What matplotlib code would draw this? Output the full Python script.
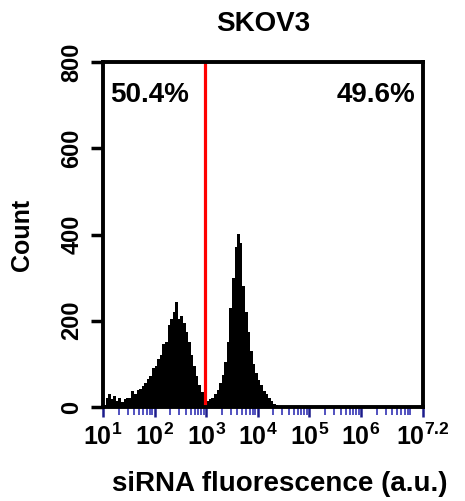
import numpy as np
import matplotlib
matplotlib.use("Agg")
import matplotlib.pyplot as plt

# Flow cytometry histogram (SKOV3), counts per log10 bin of width 0.05
bin_start = 1.0
bin_width = 0.05
counts = [5, 20, 30, 18, 25, 15, 22, 12, 18, 20,
          22, 38, 30, 40, 42, 48, 55, 65, 72, 90,
          95, 112, 120, 145, 150, 190, 205, 220, 244, 205,
          212, 195, 175, 150, 120, 95, 72, 50, 35, 18,
          15, 18, 22, 30, 40, 55, 75, 105, 150, 230,
          300, 370, 402, 380, 280, 220, 175, 130, 100, 80,
          62, 50, 38, 30, 22, 14, 8, 4]

gate_log = 2.98
pct_labels = ["50.4%", "49.6%"]
xtick_exp = [1, 2, 3, 4, 5, 6, 7.2]
xtick_labels = [r"$\mathbf{10^{1}}$", r"$\mathbf{10^{2}}$", r"$\mathbf{10^{3}}$",
                r"$\mathbf{10^{4}}$", r"$\mathbf{10^{5}}$", r"$\mathbf{10^{6}}$",
                r"$\mathbf{10^{7.2}}$"]
yticks = [0, 200, 400, 600, 800]

plt.rcParams['font.family'] = ['Liberation Sans', 'DejaVu Sans']
plt.rcParams['font.weight'] = 'bold'
plt.rcParams['mathtext.fontset'] = 'custom'
plt.rcParams['mathtext.rm'] = 'Liberation Sans:bold'
plt.rcParams['mathtext.bf'] = 'Liberation Sans:bold'

fig = plt.figure(figsize=(4.65, 5.01), dpi=100)
ax = fig.add_axes([103/465, 1 - 407/501, 320/465, 345/501])

edges = 10 ** (bin_start + bin_width * np.arange(len(counts) + 1))
ax.stairs(counts, edges, fill=True, color='black')

# gate
ax.axvline(10 ** gate_log, color='#ff0000', lw=2.3)

ax.set_xscale('log')
ax.set_xlim(10 ** xtick_exp[0], 10 ** xtick_exp[-1])
ax.set_ylim(0, 800)

ax.set_xticks([10 ** e for e in xtick_exp])
ax.set_xticklabels(xtick_labels, fontsize=18)
ax.xaxis.set_minor_locator(matplotlib.ticker.LogLocator(base=10, subs=np.arange(2, 10)))
ax.xaxis.set_minor_formatter(matplotlib.ticker.NullFormatter())
ax.tick_params(axis='x', which='major', length=7, width=1.8, color='#1c1c8c', pad=5)
ax.tick_params(axis='x', which='minor', length=6, width=1.2, color='#3434b4')

ax.set_yticks(yticks)
ax.set_yticklabels([str(v) for v in yticks], fontsize=17, rotation=90, va='center')
ax.tick_params(axis='y', length=9, width=2.5, color='black', pad=5)

for sp in ax.spines.values():
    sp.set_linewidth(2.8)

ax.text(0.022, 0.905, pct_labels[0], transform=ax.transAxes, fontsize=20,
        fontweight='bold', ha='left', va='center')
ax.text(0.975, 0.905, pct_labels[1], transform=ax.transAxes, fontsize=20,
        fontweight='bold', ha='right', va='center')

ax.set_title('SKOV3', fontsize=20, fontweight='bold', pad=22)
ax.set_xlabel('siRNA fluorescence (a.u.)', fontsize=20, fontweight='bold')
ax.xaxis.set_label_coords((280 - 103) / 320, -0.185)
ax.set_ylabel('Count', fontsize=18, fontweight='bold')
ax.yaxis.set_label_coords(-0.215, 0.5)

fig.savefig('out.png', dpi=100)
